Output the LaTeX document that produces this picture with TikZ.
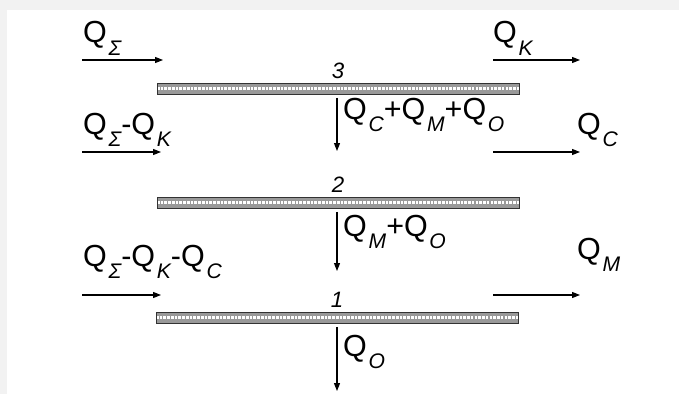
\documentclass[tikz,border=0pt]{standalone}
\usepackage{fontspec}
\setmainfont{Liberation Sans}
\usetikzlibrary{arrows.meta, positioning}

\newcommand{\qs}[1]{Q\kern1.5pt\raisebox{-0.4em}{\fontsize{18}{18}\selectfont\itshape #1}}

\begin{document}
\begin{tikzpicture}[
  x=0.03cm, y=-0.03cm,
  flow/.style={-{Triangle[length=2.4mm, width=1.8mm]}, line width=0.9pt},
  plate/.style={draw=black!80, line width=0.8pt, fill=black!40, minimum width=10.86cm,
    minimum height=0.33cm, inner sep=0pt,
    path picture={\draw[white, line width=2.2pt, dash pattern=on 2.2pt off 1pt]
      (path picture bounding box.west) -- (path picture bounding box.east);}},
  qlabel/.style={anchor=base west, inner sep=0pt, font=\fontsize{26}{30}\selectfont},
  num/.style={inner sep=0pt, font=\fontsize{19}{20}\selectfont\itshape}
]
% frame
\fill[black!5] (0,0) rectangle (679,394);
\fill[white] (7,10) rectangle (679,394);
\useasboundingbox (0,0) rectangle (679,394);

% plates
\node[plate] (p3) at (338,88.5) {};
\node[plate] (p2) at (338,202.5) {};
\node[plate] (p1) at (337,317.5) {};
\node[num, above=3pt of p3] (n3) {3};
\node[num, above=3pt of p2] (n2) {2};
\node[num, above=3pt of p1] (n1) {1};

% arrow ends
\coordinate (a1) at (82,60);  \coordinate (b1) at (163,60);
\coordinate (a2) at (82,152); \coordinate (b2) at (161,152);
\coordinate (a3) at (82,295); \coordinate (b3) at (161,295);
\coordinate (c1) at (493,60);  \coordinate (d1) at (580,60);
\coordinate (c2) at (493,152); \coordinate (d2) at (580,152);
\coordinate (c3) at (493,295); \coordinate (d3) at (580,295);
\coordinate (e3) at (337,151);
\coordinate (e2) at (337,271);
\coordinate (e1) at (337,391);

\draw[flow] (a1) -- (b1);
\draw[flow] (a2) -- (b2);
\draw[flow] (a3) -- (b3);
\draw[flow] (c1) -- (d1);
\draw[flow] (c2) -- (d2);
\draw[flow] (c3) -- (d3);
\draw[flow] (p3.south -| e3) ++(0,-3pt) -- (e3);
\draw[flow] (p2.south -| e2) ++(0,-3pt) -- (e2);
\draw[flow] (p1.south -| e1) ++(0,-3pt) -- (e1);

% labels
\node[qlabel] (lS) at (83,43) {\qs{Σ}};
\node[qlabel] (lSK) at (83,134) {\qs{Σ}-\qs{K}};
\node[qlabel] (lSKC) at (83,266) {\qs{Σ}-\qs{K}-\qs{C}};
\node[qlabel] (lK) at (493,43) {\qs{K}};
\node[qlabel] (lC) at (577,134) {\qs{C}};
\node[qlabel] (lM) at (577,259) {\qs{M}};
\node[qlabel] (lCMO) at (343,119) {\qs{C}+\qs{M}+\qs{O}};
\node[qlabel] (lMO) at (343,236) {\qs{M}+\qs{O}};
\node[qlabel] (lO) at (343,356) {\qs{O}};
\end{tikzpicture}
\end{document}
